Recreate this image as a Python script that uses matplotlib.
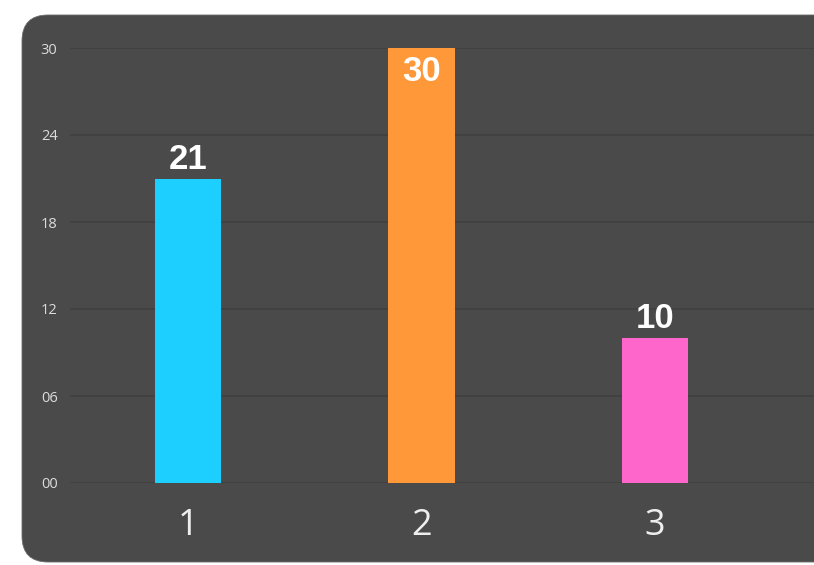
import matplotlib
matplotlib.use("Agg")
from matplotlib import pyplot as plt
from matplotlib.patches import FancyBboxPatch

categories = ["1", "2", "3"]
values = [21, 30, 10]
bar_colors = ["#1ccfff", "#ff9838", "#ff66cc"]
y_ticks = [0, 6, 12, 18, 24, 30]
y_tick_labels = ["00", "06", "12", "18", "24", "30"]

fig = plt.figure(figsize=(8.14, 5.65), dpi=100)
fig.patch.set_facecolor("white")

# dark rounded panel behind the chart (inch coordinates)
panel = FancyBboxPatch((0.22, 0.03), 8.6, 5.47,
                       boxstyle="round,pad=0,rounding_size=0.26",
                       transform=fig.dpi_scale_trans,
                       facecolor="#4a4a4a", edgecolor="#6a6a6a", linewidth=0.6,
                       zorder=-1)
fig.add_artist(panel)

# axes placed so that the plot area matches the panel layout
ax = fig.add_axes([70 / 814, 82 / 565, 744 / 814, 435 / 565])
ax.set_facecolor("none")

x = list(range(1, len(categories) + 1))
bars = ax.bar(x, values, width=0.283, color=bar_colors, zorder=3)

ax.set_xlim(0.4946, 3.681)
ax.set_ylim(0, 30)
ax.set_yticks(y_ticks)
ax.set_yticklabels(y_tick_labels)
ax.set_xticks(x)
ax.set_xticklabels(categories)

ax.grid(axis="y", color="#404040", linewidth=1.2, zorder=1)
for s in ax.spines.values():
    s.set_visible(False)
ax.tick_params(axis="both", length=0)
ax.tick_params(axis="y", colors="#dcdcdc", labelsize=10.5, pad=9)
ax.tick_params(axis="x", colors="#eeeeee", labelsize=26, pad=18)
for lab in ax.get_xticklabels():
    lab.set_fontfamily("Open Sans")
for lab in ax.get_yticklabels():
    lab.set_fontfamily("Open Sans")

# value labels; the tallest one sits inside the bar
for xi, v in zip(x, values):
    if v >= 30:
        ax.text(xi, v - 0.5, str(v), ha="center", va="top", color="white",
                fontsize=25, fontweight="bold", family="Liberation Sans", zorder=4)
    else:
        ax.text(xi, v + 0.2, str(v), ha="center", va="bottom", color="white",
                fontsize=25, fontweight="bold", family="Liberation Sans", zorder=4)

plt.savefig("out.png", dpi=100)
